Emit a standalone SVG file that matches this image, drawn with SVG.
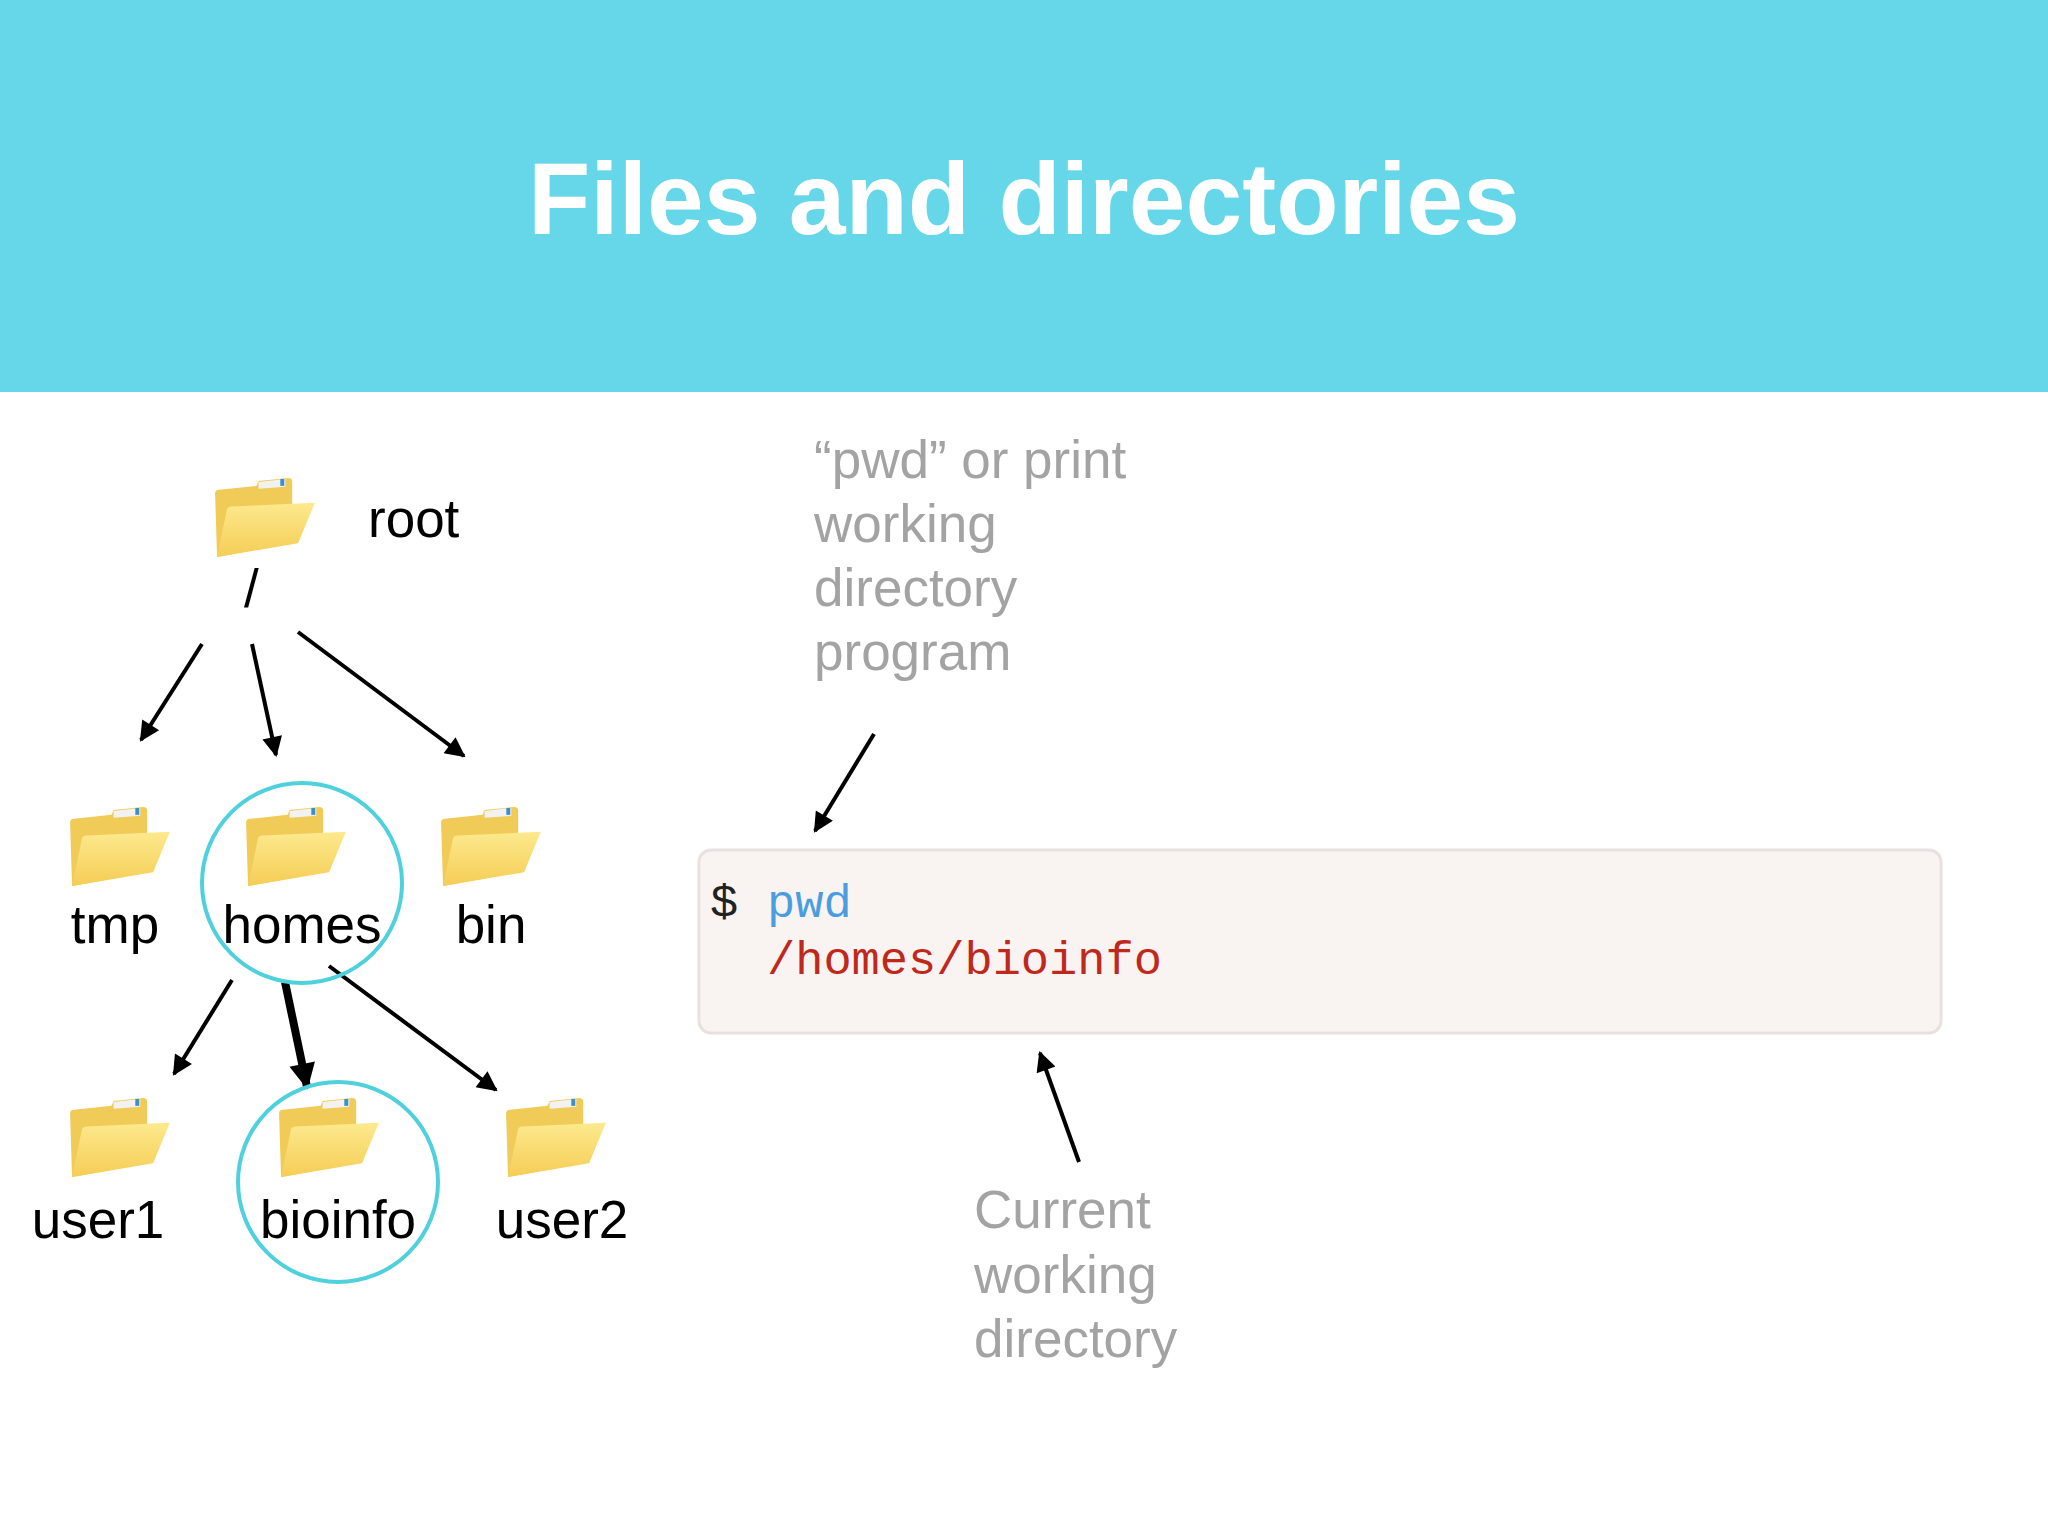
<svg xmlns="http://www.w3.org/2000/svg" width="2048" height="1536" viewBox="0 0 2048 1536">
<style>
.lbl{font-family:"Liberation Sans",Arial,sans-serif;font-size:53px;fill:#000}
.grey{font-family:"Liberation Sans",Arial,sans-serif;font-size:53px;fill:#a3a3a3}
.mono{font-family:"Liberation Mono","Courier New",monospace;font-size:47px}
.ar{stroke:#000;stroke-width:4;fill:none;marker-end:url(#ah)}
.ring{fill:none;stroke:#4fd0dd;stroke-width:4}
</style>
<defs>
<marker id="ah" viewBox="0 0 10 10" refX="9" refY="5" markerWidth="24" markerHeight="20" markerUnits="userSpaceOnUse" orient="auto"><path d="M0,0 L10,5 L0,10 Z" fill="#000"/></marker>
<marker id="ah2" viewBox="0 0 10 10" refX="9" refY="5" markerWidth="30" markerHeight="26" markerUnits="userSpaceOnUse" orient="auto"><path d="M0,0 L10,5 L0,10 Z" fill="#000"/></marker>
<linearGradient id="fg" x1="0" y1="0" x2="0" y2="1"><stop offset="0" stop-color="#fde98e"/><stop offset="1" stop-color="#f5cd55"/></linearGradient>
<symbol id="folder" viewBox="0 0 104 86">
<path d="M2,20 Q2,16 6,16 L44,12 L46,7 L76,4 Q80,4 80,8 L80,70 L4,84 Z" fill="#f0cb58"/>
<path d="M46,8 L73,5 L73,13 L46,15 Z" fill="#f2f2f2"/>
<rect x="68" y="5" width="4" height="7" fill="#3d8fc8"/>
<path d="M14,36 Q15,33 19,33 L103,29 L86,70 L4,84 Z" fill="url(#fg)"/>
</symbol>
</defs>
<rect width="2048" height="1536" fill="#fff"/>
<rect width="2048" height="392" fill="#66d7e8"/>
<text x="1024" y="234" text-anchor="middle" font-family="Liberation Sans,Arial,sans-serif" font-weight="bold" font-size="102" fill="#fff">Files and directories</text>

<g id="connectors">
<line class="ar" x1="202" y1="644" x2="141" y2="740"/>
<line class="ar" x1="252" y1="644" x2="276" y2="755"/>
<line class="ar" x1="298" y1="632" x2="464" y2="756"/>
<line class="ar" x1="232" y1="980" x2="174" y2="1074"/>
<line stroke="#000" stroke-width="8" marker-end="url(#ah2)" x1="285" y1="982" x2="307" y2="1087"/>
<line class="ar" x1="329" y1="966" x2="496" y2="1090"/>
<line class="ar" x1="874" y1="734" x2="815" y2="831"/>
<line class="ar" x1="1079" y1="1162" x2="1040" y2="1053"/>
</g>

<g id="root"><use href="#folder" x="213" y="474" width="103" height="85"/><text class="lbl" x="368" y="537">root</text><text class="lbl" x="244" y="607">/</text></g>
<g id="tmp"><use href="#folder" x="68" y="803" width="103" height="85"/><text class="lbl" x="115" y="943" text-anchor="middle">tmp</text></g>
<g id="homes"><use href="#folder" x="244" y="803" width="103" height="85"/><text class="lbl" x="302" y="943" text-anchor="middle">homes</text><circle class="ring" cx="302" cy="883" r="100"/></g>
<g id="bin"><use href="#folder" x="439" y="803" width="103" height="85"/><text class="lbl" x="491" y="943" text-anchor="middle">bin</text></g>
<g id="user1"><use href="#folder" x="68" y="1094" width="103" height="85"/><text class="lbl" x="98" y="1238" text-anchor="middle">user1</text></g>
<g id="bioinfo"><use href="#folder" x="277" y="1094" width="103" height="85"/><text class="lbl" x="338" y="1238" text-anchor="middle">bioinfo</text><circle class="ring" cx="338" cy="1182" r="100"/></g>
<g id="user2"><use href="#folder" x="504" y="1094" width="103" height="85"/><text class="lbl" x="562" y="1238" text-anchor="middle">user2</text></g>

<g id="pwd-note"><text class="grey" x="814" y="478">“pwd” or print</text><text class="grey" x="814" y="542">working</text><text class="grey" x="814" y="606">directory</text><text class="grey" x="814" y="670">program</text></g>

<g id="terminal">
<rect x="699" y="850" width="1242" height="183" rx="12" fill="#f9f4f2" stroke="#e9e1df" stroke-width="3"/>
<text class="mono" x="710" y="917" fill="#222">$</text>
<text class="mono" x="767" y="917" fill="#4a9ee0">pwd</text>
<text class="mono" x="767" y="974" fill="#c0281c">/homes/bioinfo</text>
</g>

<g id="cwd-note"><text class="grey" x="974" y="1228">Current</text><text class="grey" x="974" y="1293">working</text><text class="grey" x="974" y="1357">directory</text></g>
</svg>
